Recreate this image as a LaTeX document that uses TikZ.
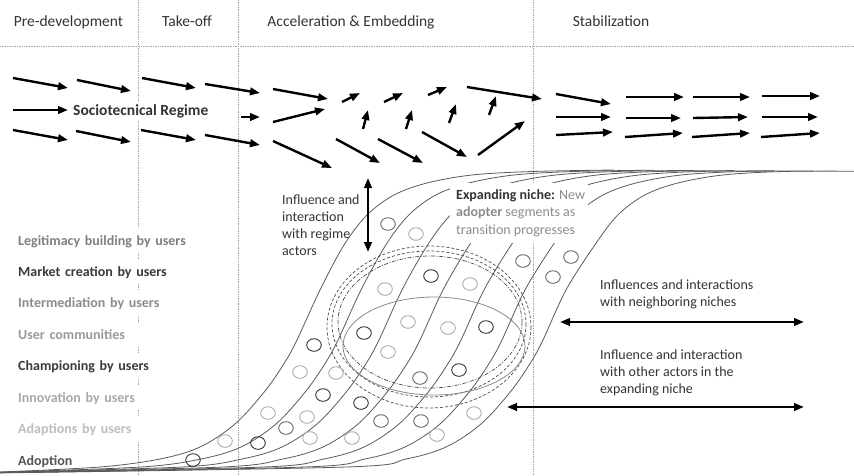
\documentclass[tikz,border=0pt]{standalone}
\usepackage{fontspec}
\setmainfont{Carlito}
\usetikzlibrary{arrows.meta}

\definecolor{ink}{HTML}{333333}
\definecolor{inkmid}{HTML}{666666}
\definecolor{inklight}{HTML}{ABABAB}
\definecolor{softgray}{HTML}{8C8C8C}
\definecolor{curvegray}{HTML}{5A5A5A}
\definecolor{ringgray}{HTML}{8A8A8A}
\definecolor{lbLeg}{HTML}{808080}
\definecolor{lbMar}{HTML}{3A3A3A}
\definecolor{lbInt}{HTML}{8C8C8C}
\definecolor{lbUse}{HTML}{9A9A9A}
\definecolor{lbCha}{HTML}{3A3A3A}
\definecolor{lbInn}{HTML}{A8A8A8}
\definecolor{lbAda}{HTML}{BEBEBE}
\definecolor{lbAdo}{HTML}{555555}

\begin{document}
\begin{tikzpicture}[x=1pt,y=-1pt,
  flow/.style={line width=2.4pt, -{Triangle[length=10pt,width=7.5pt]}},
  twoway/.style={line width=2.4pt, {Triangle[length=10pt,width=7.5pt]}-{Triangle[length=10pt,width=7.5pt]}},
  guide/.style={densely dotted, line width=0.7pt, black!35},
  scurve/.style={line width=0.8pt, curvegray},
  ring/.style={line width=0.9pt},
  ringdash/.style={dashed, dash pattern=on 3pt off 2pt, line width=0.7pt, black!70},
  hdr/.style={font=\fontsize{15.5}{18}\selectfont, text=ink, inner sep=0, anchor=base},
  lbl/.style={font=\fontsize{14}{17}\selectfont\bfseries, inner sep=0, anchor=base west},
  body/.style={font=\fontsize{14}{17}\selectfont, text=ink, inner sep=0, anchor=base west}]

\useasboundingbox (0,0) rectangle (854,475);

% phase separators
\coordinate (p1t) at (138,0);   \coordinate (p1b) at (138,475);
\coordinate (p2t) at (238,0);   \coordinate (p2b) at (238,475);
\coordinate (p3t) at (533,0);   \coordinate (p3b) at (533,475);
\coordinate (hl) at (0,46);     \coordinate (hr) at (854,46);
\draw[guide] (p1t) -- (p1b);
\draw[guide] (p2t) -- (p2b);
\draw[guide] (p3t) -- (p3b);
\draw[guide] (hl) -- (hr);

% phase titles
\node[hdr] (ph1) at (68.5,26) {Pre-development};
\node[hdr] (ph2) at (187,26) {Take-off};
\node[hdr] (ph3) at (351,26) {Acceleration \& Embedding};
\node[hdr] (ph4) at (611,26) {Stabilization};

% regime flows
\foreach \ax/\ay/\bx/\by [count=\n] in {
  13/78/68/88, 77/80/131/91, 142/78/196/88, 205/84/260/93, 273/89/328/99,
  13/110/68/110, 241/117/260/117, 273/122/325/109,
  13/130/68/140, 76/131/131/142, 141/130/196/140, 205/135/260/145, 273/141/332/168,
  342/102/360/93, 384/102/403/93, 428/95/447/87, 467/87/542/99,
  363/129/368/110, 406/129/412/110, 449/123/456/104, 489/115/496/96,
  336/139/380/163, 378/139/423/163, 422/132/467/157, 478/155/525/121,
  556/94/611/104, 556/117/611/117, 556/135/613/132,
  626/97/684/97, 626/118/681/118, 625/137/683/133,
  693/97/750/97, 693/118/748/117, 692/137/750/133,
  762/96/820/96, 762/117/818/117, 761/137/820/133} {
  \coordinate (fs\n) at (\ax,\ay);
  \coordinate (fe\n) at (\bx,\by);
  \draw[flow] (fs\n) -- (fe\n);
}
\node[font=\fontsize{15.5}{18}\selectfont\bfseries, text=ink, fill=white,
      inner xsep=0, inner ysep=2pt, anchor=base west] (regime) at (73,115) {Sociotecnical Regime};

% S-shaped adoption curves of the successive adopter segments
\foreach \i in {0,...,6} {
  \pgfmathsetmacro{\s}{41*\i}
  \pgfmathsetmacro{\t}{41*\i+0.8*\i}
  \pgfmathsetmacro{\e}{614+40*\i}
  \draw[scurve] plot[smooth, tension=0.55] coordinates {
    (0,{472+\i*0.15}) ({100+\s},467) ({160+\s},459) ({200+\s},447) ({235+\s},424)
    ({265+\s},391) ({285+\s},362) ({297+\s},340) ({320+\s},290) ({344+\t},245)
    ({367+\t},215) ({394+\t},195) ({427+\t},183) ({472+\t},175) ({532+\t},171.5)
    (\e,{170+\i*0.2})};
}

% niche boundaries
\draw[ringdash] (429,327) ellipse [x radius=102, y radius=81];
\draw[ringdash] (429,324) ellipse [x radius=97, y radius=73];
\draw[ringdash, dash pattern=on 4pt off 1.5pt on 1pt off 1.5pt] (430,322) ellipse [x radius=92, y radius=66];
\draw[line width=0.8pt, ringgray] (434,346) ellipse [x radius=91, y radius=49];

% users
\foreach \cx/\cy in {431/276, 314/345, 323/395, 364/333, 486/327, 459/370, 361/403, 258/443, 193/460}
  \draw[ring, ink] (\cx,\cy) ellipse [x radius=7.3, y radius=6.3];
\foreach \cx/\cy in {388/224, 523/261, 571/257, 553/277, 420/378, 286/428, 381/421, 421/421}
  \draw[ring, inkmid] (\cx,\cy) ellipse [x radius=7.3, y radius=6.3];
\foreach \cx/\cy in {416/234, 385/289, 470/284, 300/372, 336/373, 408/322, 448/328, 388/352,
                     268/413, 307/417, 310/438, 352/438, 437/435, 474/413, 225/441}
  \draw[ring, inklight] (\cx,\cy) ellipse [x radius=7.3, y radius=6.3];

% expanding niche caption
\node[fill=white, inner sep=0, minimum width=138pt, minimum height=60pt, anchor=north west] (nichebg) at (450,183) {};
\node[body] (en1) at (456,199) {\textbf{Expanding niche:} \textcolor{softgray}{New}};
\node[body, text=softgray] (en2) at (456,216.5) {\textbf{adopter} segments as};
\node[body, text=softgray] (en3) at (456,234) {transition progresses};

% interaction with regime actors
\coordinate (raT) at (368,178); \coordinate (raB) at (368,252);
\draw[twoway] (raT) -- (raB);
\node[body] (ra1) at (282,204) {Influence and};
\node[body] (ra2) at (282,221) {interaction};
\node[body] (ra3) at (282,238) {with regime};
\node[body] (ra4) at (282,255) {actors};

% interaction with neighbouring niches
\coordinate (nbL) at (560,322); \coordinate (nbR) at (804,322);
\draw[twoway] (nbL) -- (nbR);
\node[body] (nb1) at (600,289.5) {Influences and interactions};
\node[body] (nb2) at (600,306.5) {with neighboring niches};

% interaction inside the expanding niche
\coordinate (exL) at (507,407); \coordinate (exR) at (804,407);
\draw[twoway] (exL) -- (exR);
\node[body] (ex1) at (600,359.5) {Influence and interaction};
\node[body] (ex2) at (600,376.5) {with other actors in the};
\node[body] (ex3) at (600,393.5) {expanding niche};

% user roles
\foreach \txt/\col/\yy [count=\n] in {
  Legitimacy building by users/lbLeg/245,
  Market creation by users/lbMar/276.4,
  Intermediation by users/lbInt/307.9,
  User communities/lbUse/339.3,
  Championing by users/lbCha/370.7,
  Innovation by users/lbInn/402.1,
  Adaptions by users/lbAda/433.6} {
  \node[lbl, text=\col, fill=white, text width=180pt, text height=17pt, text depth=8pt] (role\n) at (18,\yy) {\txt};
}
\node[lbl, text=lbAdo] (role8) at (18,465) {Adoption};

\end{tikzpicture}
\end{document}
